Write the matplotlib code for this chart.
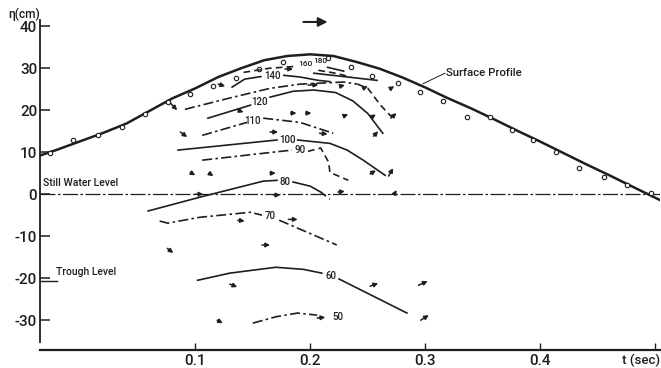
import matplotlib
matplotlib.use("Agg")
import matplotlib.pyplot as plt

plt.rcParams['font.family'] = ['Roboto', 'DejaVu Sans']
plt.rcParams['font.weight'] = 'medium'

INK = "#1e1e1e"

# ---------------- data ----------------
surf_t = [-0.035, -0.02, 0.0, 0.02, 0.04, 0.06, 0.08, 0.10, 0.12, 0.14, 0.16, 0.18, 0.20,
          0.22, 0.24, 0.26, 0.28, 0.30, 0.32, 0.34, 0.36, 0.38, 0.40, 0.42, 0.44, 0.46, 0.48, 0.504]
surf_eta = [9.2, 10.6, 12.6, 14.6, 16.8, 19.8, 22.8, 25.2, 27.9, 30.0, 31.9, 32.9, 33.3,
            32.9, 31.5, 29.9, 27.8, 25.4, 22.8, 20.4, 17.8, 15.1, 12.5, 9.8, 7.1, 4.5, 1.8, -1.4]

obs_t = [-0.026, -0.006, 0.015, 0.036, 0.056, 0.076, 0.095, 0.115, 0.135, 0.155, 0.176, 0.215,
         0.235, 0.254, 0.276, 0.295, 0.315, 0.336, 0.356, 0.375, 0.394, 0.414, 0.434, 0.455, 0.475, 0.496]
obs_eta = [9.8, 12.9, 14.0, 16.0, 19.0, 21.9, 23.8, 25.7, 27.6, 29.8, 31.4, 32.4,
           30.3, 28.1, 26.4, 24.3, 22.1, 18.4, 18.3, 15.2, 13.0, 10.0, 6.2, 4.0, 2.1, 0.3]

SOLID, DASHDOT, DASHED = "solid", "dashdot", "dashed"
contours = [
    ("180", (0.209, 31.6), [(SOLID, [0.215, 0.229], [30.2, 29.3])]),
    ("", None, [(SOLID, [0.203, 0.226, 0.258], [28.8, 28.1, 27.1])]),
    ("160", (0.196, 31.0), [(DASHED, [0.142, 0.165, 0.186], [29.0, 30.0, 30.4]),
                            (DASHED, [0.207, 0.222, 0.235], [29.5, 28.8, 27.9])]),
    ("140", (0.167, 28.1), [(SOLID, [0.132, 0.143, 0.157], [25.5, 27.4, 28.0]),
                            (SOLID, [0.177, 0.191, 0.207, 0.217], [28.3, 27.9, 27.1, 26.8])]),
    ("", None, [(DASHDOT, [0.091, 0.130, 0.165, 0.191, 0.229, 0.241], [20.2, 22.9, 25.2, 26.2, 26.7, 26.2]),
                (DASHED, [0.241, 0.250, 0.261, 0.271], [26.2, 25.2, 21.2, 18.3])]),
    ("120", (0.156, 21.9), [(SOLID, [0.111, 0.148], [18.1, 21.2]),
                            (SOLID, [0.165, 0.185, 0.203, 0.222, 0.237, 0.250, 0.263],
                             [23.1, 24.5, 24.8, 24.2, 22.2, 19.2, 14.5])]),
    ("110", (0.150, 17.4), [(DASHDOT, [0.106, 0.145], [14.0, 17.1]),
                            (DASHDOT, [0.159, 0.191, 0.220], [18.1, 17.1, 14.5])]),
    ("100", (0.180, 12.9), [(SOLID, [0.085, 0.171], [10.5, 12.9]),
                            (SOLID, [0.189, 0.217, 0.232, 0.246, 0.265], [12.9, 12.1, 10.5, 8.1, 4.5])]),
    ("90", (0.191, 10.5), [(DASHDOT, [0.106, 0.184], [8.1, 10.5]),
                           (DASHED, [0.198, 0.209, 0.216, 0.217, 0.233], [10.2, 11.0, 7.6, 5.2, 3.3])]),
    ("80", (0.178, 2.9), [(SOLID, [0.059, 0.107, 0.159, 0.171], [-4.0, -0.5, 3.1, 3.3]),
                          (SOLID, [0.185, 0.200, 0.209], [2.9, 1.9, 0.5]),
                          (DASHED, [0.209, 0.217], [0.5, -1.2])]),
    ("70", (0.165, -5.2), [(DASHDOT, [0.069, 0.076, 0.104, 0.148, 0.158], [-6.4, -6.9, -5.5, -4.3, -5.0]),
                           (DASHDOT, [0.173, 0.223], [-6.2, -12.1])]),
    ("60", (0.218, -19.5), [(SOLID, [0.102, 0.130, 0.170, 0.194, 0.210], [-20.5, -18.8, -17.4, -17.9, -18.8]),
                            (SOLID, [0.225, 0.284], [-20.2, -28.3])]),
    ("50", (0.224, -29.3), [(DASHDOT, [0.150, 0.170, 0.189, 0.206], [-30.7, -29.2, -28.3, -28.8])]),
]

# velocity arrows: start t, start eta, end t, end eta
arr_t0 = [0.0783, 0.087, 0.0957, 0.112, 0.0757, 0.120, 0.178, 0.198, 0.226, 0.246, 0.270,
          0.183, 0.196, 0.229, 0.253, 0.270, 0.137, 0.208, 0.255, 0.165, 0.165, 0.252, 0.268,
          0.224, 0.273, 0.137, 0.181, 0.158, 0.130, 0.119, 0.252, 0.294, 0.296, 0.206,
          0.100, 0.168]
arr_e0 = [21.7, 14.8, 5.2, 5.0, -12.9, 26.2, 29.8, 26.0, 25.7, 25.2, 25.2,
          19.3, 19.3, 18.6, 18.3, 18.1, 20.0, 14.5, 13.8, 14.8, 5.0, 4.8, 4.3,
          0.5, 0.0, -6.2, -6.0, -12.1, -21.4, -30.0, -21.9, -21.7, -30.0, -29.5,
          0.0, -0.2]
arr_t1 = [0.0843, 0.093, 0.100, 0.1157, 0.0809, 0.126, 0.185, 0.207, 0.230, 0.250, 0.273,
          0.188, 0.201, 0.233, 0.257, 0.275, 0.142, 0.215, 0.259, 0.172, 0.170, 0.257, 0.272,
          0.230, 0.275, 0.143, 0.189, 0.165, 0.1365, 0.124, 0.259, 0.302, 0.303, 0.213,
          0.107, 0.174]
arr_e1 = [20.0, 13.6, 4.5, 4.3, -14.0, 25.7, 29.8, 26.0, 26.0, 25.7, 25.7,
          19.3, 19.3, 19.0, 19.0, 19.3, 19.5, 14.3, 15.0, 14.8, 5.0, 5.7, 6.2,
          0.7, 1.0, -6.4, -6.0, -12.1, -22.1, -30.7, -21.2, -20.7, -28.8, -29.3,
          0.0, -0.2]

yticks = [-30, -20, -10, 0, 10, 20, 30, 40]
xticks = [0.1, 0.2, 0.3, 0.4, 0.5]
xticklabels = ["0.1", "0.2", "0.3", "0.4", ""]

# ---------------- figure ----------------
fig = plt.figure(figsize=(6.61, 3.68), dpi=100)
ax = fig.add_axes([40 / 661, 18 / 368, 620 / 661, 336 / 368])
ax.set_xlim(-0.035, 0.504)
ax.set_ylim(-37.1, 42.9)

for s in ("top", "right"):
    ax.spines[s].set_visible(False)
ax.spines["left"].set_bounds(-35.3, 41.5)
ax.spines["left"].set_linewidth(1.3)
ax.spines["bottom"].set_linewidth(1.6)
ax.spines["left"].set_color(INK)
ax.spines["bottom"].set_color(INK)

ax.set_yticks(yticks)
ax.set_yticklabels([str(v) for v in yticks], fontsize=11)
ax.set_xticks(xticks)
ax.set_xticklabels(xticklabels, fontsize=11)
ax.tick_params(axis="y", direction="in", length=7, width=1.1, pad=2, colors=INK)
ax.tick_params(axis="x", direction="in", length=5, width=1.0, pad=3, colors=INK)

ax.plot([-0.035, 0.504], [0, 0], color=INK, lw=0.9, linestyle=(0, (12, 2, 2, 2)))
ax.plot([-0.035, -0.020], [-20.7, -20.7], color=INK, lw=1.0)

ax.plot(surf_t, surf_eta, color=INK, lw=1.8, solid_capstyle="round")
ax.plot(obs_t, obs_eta, linestyle="none", marker="o", ms=3.2, mfc="white", mec=INK, mew=0.8)

styles = {SOLID: "-", DASHDOT: (0, (6, 2, 1.5, 2)), DASHED: (0, (4, 2.5))}
label_texts = []
for label, pos, segs in contours:
    for st, tt, ee in segs:
        ax.plot(tt, ee, color=INK, lw=1.2, linestyle=styles[st])
    if label:
        label_texts.append(ax.text(pos[0], pos[1], label, fontsize=7.5, ha="center",
                                   va="center", color=INK))

for t0, e0, t1, e1 in zip(arr_t0, arr_e0, arr_t1, arr_e1):
    ax.annotate("", xy=(t1, e1), xytext=(t0, e0),
                arrowprops=dict(arrowstyle="-|>,head_length=0.5,head_width=0.25",
                                mutation_scale=5, lw=1.1, color=INK, shrinkA=0, shrinkB=0))

ax.annotate("", xy=(0.215, 41.0), xytext=(0.194, 41.0),
            arrowprops=dict(arrowstyle="-|>,head_length=0.6,head_width=0.3",
                            mutation_scale=9, lw=1.5, color=INK, shrinkA=0, shrinkB=0))

t_swl = ax.text(-0.032, 1.4, "Still Water Level", fontsize=9, ha="left", va="bottom", color=INK)
t_tr = ax.text(-0.0215, -19.8, "Trough Level", fontsize=9, ha="left", va="bottom", color=INK)
t_sp = ax.text(0.318, 28.8, "Surface Profile", fontsize=9, ha="left", va="center", color=INK)
ax.plot([0.298, 0.317], [26.3, 28.8], color=INK, lw=0.7)
t_ts = ax.text(0.504, -38.1, "t (sec)", fontsize=11, ha="right", va="top", color=INK,
               clip_on=False)
t_eta = fig.text(24 / 661, 1 - 14 / 368, "η(cm)", fontsize=8.5, ha="center", va="center", color=INK)

fig.canvas.draw()
rend = fig.canvas.get_renderer()


def fit(txt, target_px, lo, hi):
    w = txt.get_window_extent(rend).width
    txt.set_fontsize(max(lo, min(hi, txt.get_fontsize() * target_px / w)))


fit(t_swl, 76, 7.5, 10)
fit(t_tr, 58, 7.5, 10)
fit(t_sp, 76, 7.5, 10)
fit(t_ts, 38, 9.5, 11)
fit(t_eta, 32, 8, 9)
for tl in label_texts:
    small = tl.get_text() in ("160", "180")
    fit(tl, (3.8 if small else 4.8) * len(tl.get_text()), 6.0 if small else 7.0, 8.5)

fig.savefig("out.png", dpi=100, facecolor="white")
